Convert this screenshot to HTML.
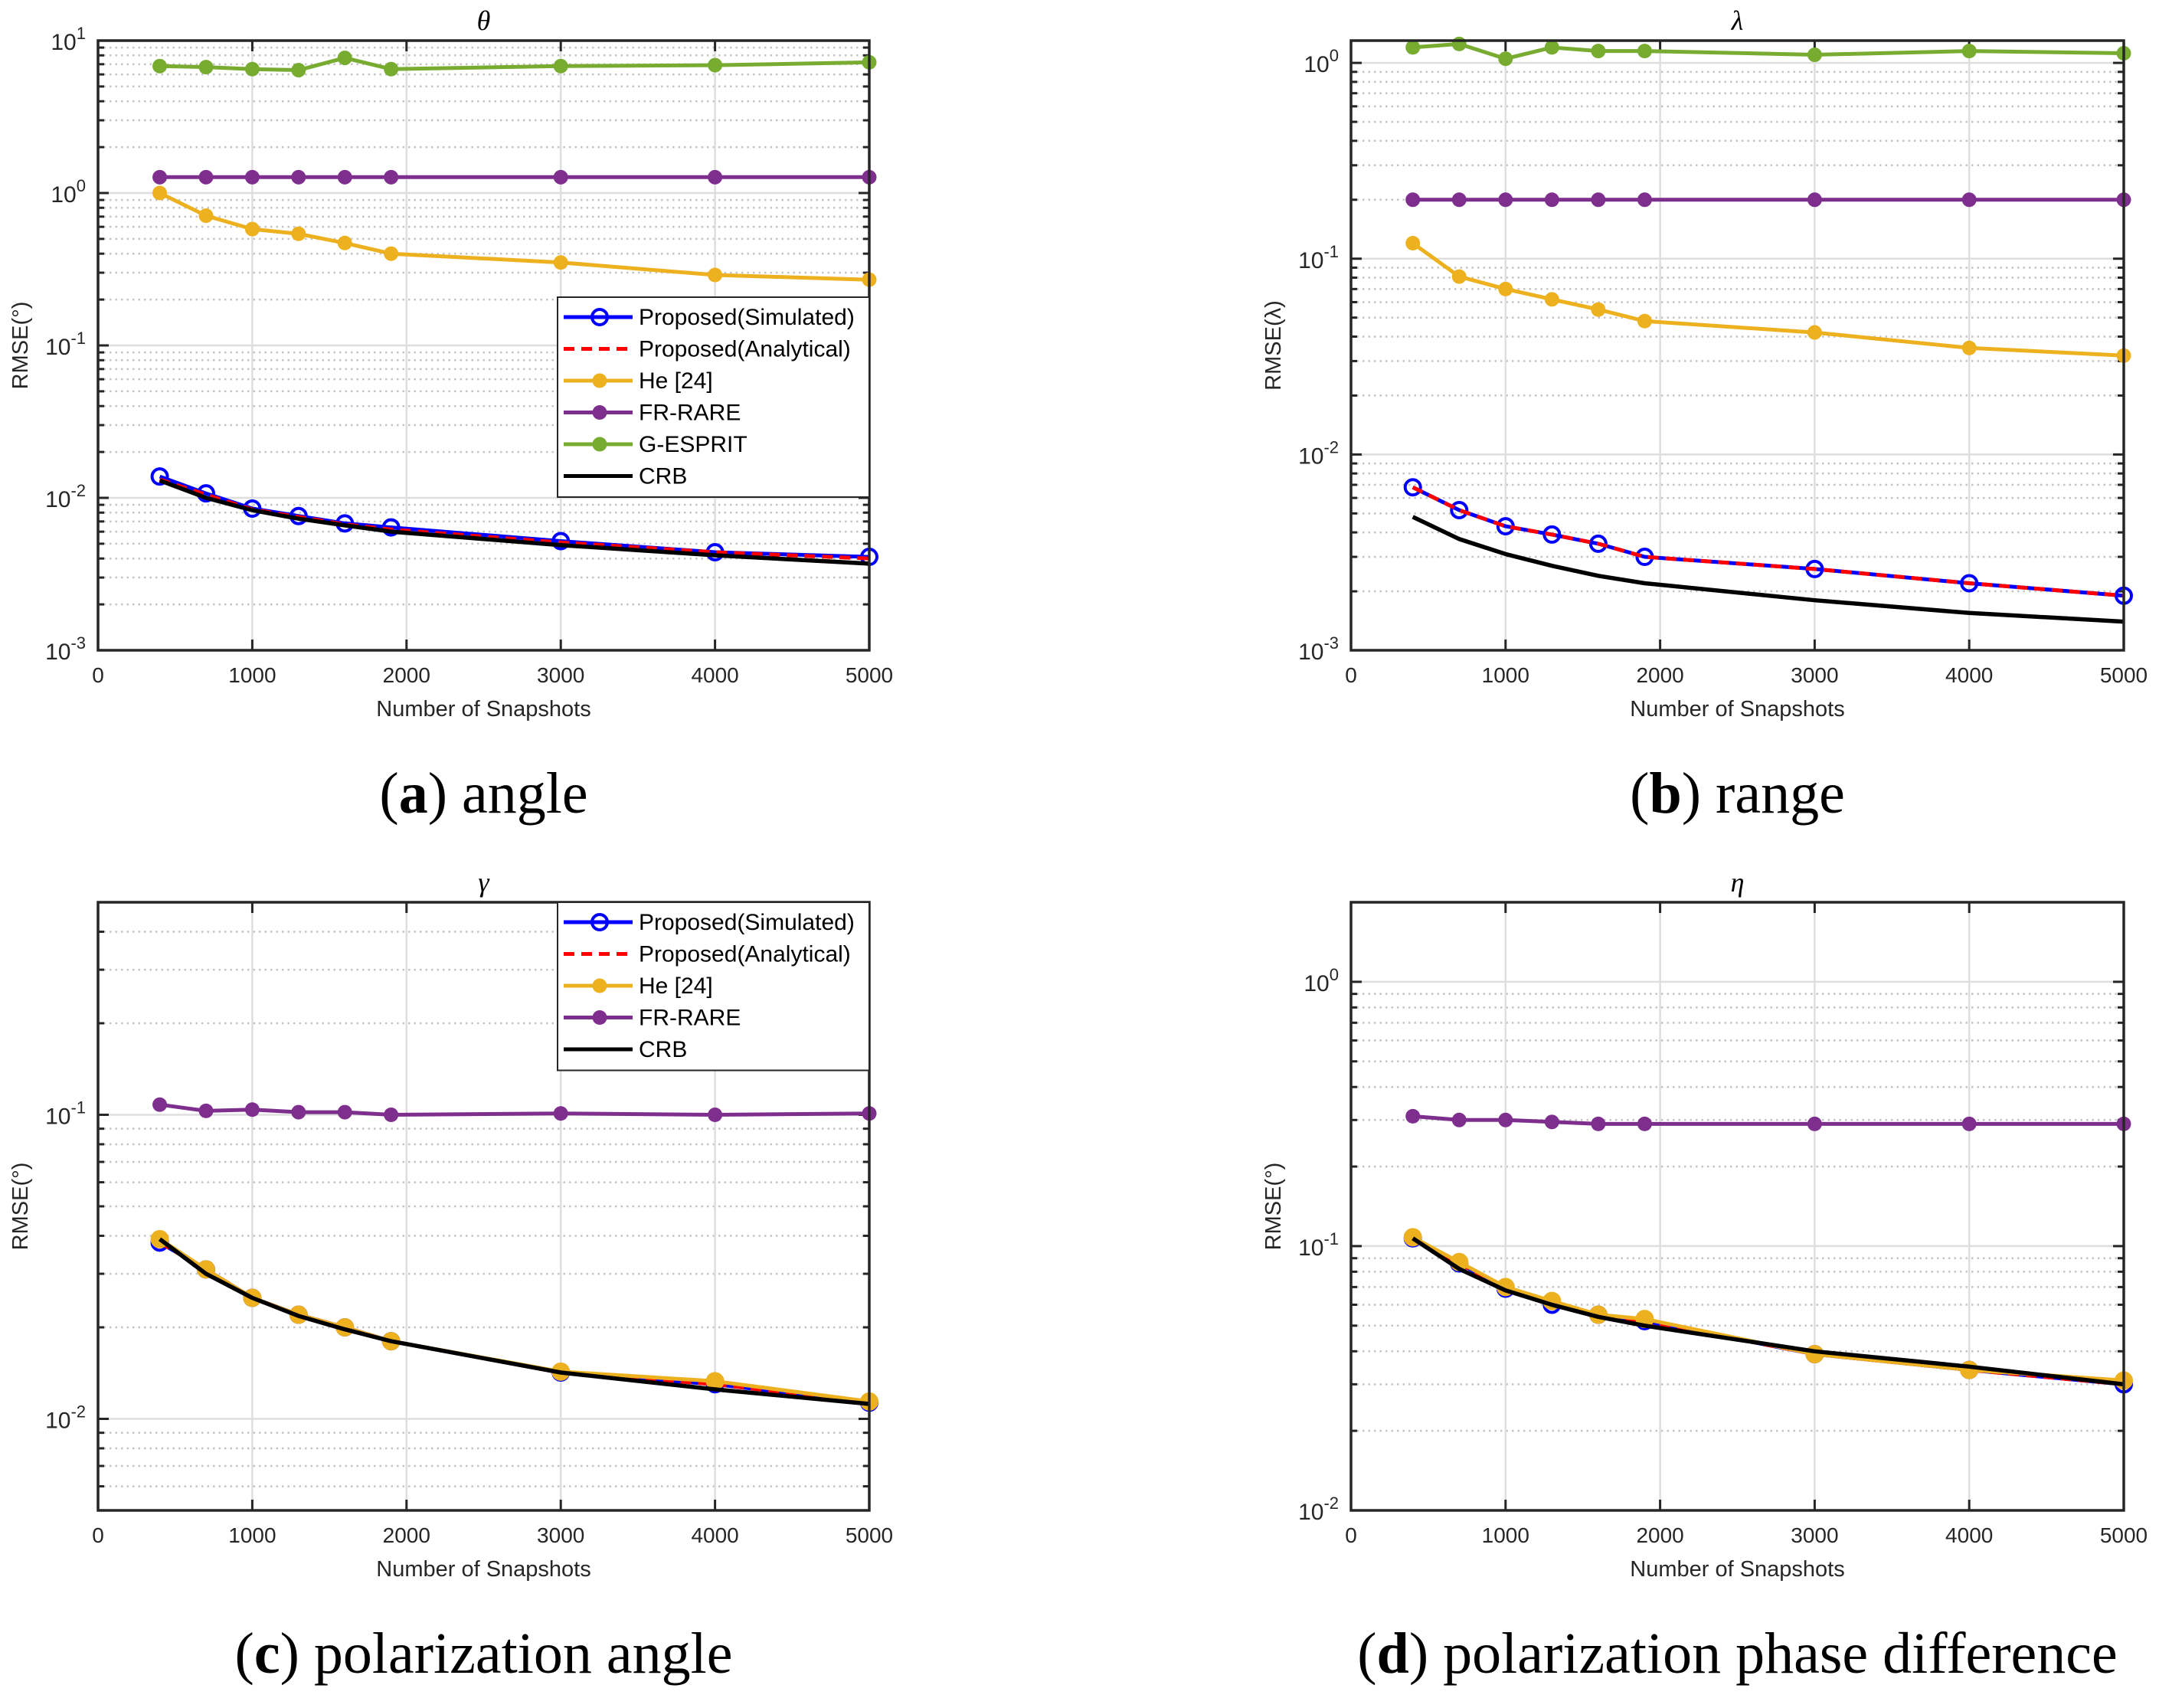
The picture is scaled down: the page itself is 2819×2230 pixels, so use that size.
<!DOCTYPE html>
<html><head><meta charset="utf-8"><style>
html,body{margin:0;padding:0;background:#fff;}
svg{display:block;}
</style></head><body>
<svg id="fig" width="2819" height="2230" viewBox="0 0 2819 2230" xmlns="http://www.w3.org/2000/svg" font-family="Liberation Sans, sans-serif"></svg>
<script>
const snapshots = [400,700,1000,1300,1600,1900,3000,4000,5000];
const xTicks = [0,1000,2000,3000,4000,5000];
// (a) angle
const aGesprit = [6.8,6.7,6.5,6.4,7.7,6.5,6.8,6.9,7.2];
const aFrRare = [1.27,1.27,1.27,1.27,1.27,1.27,1.27,1.27,1.27];
const aHe = [1.0,0.71,0.58,0.54,0.47,0.40,0.35,0.29,0.27];
const aSim = [0.0138,0.0107,0.0085,0.0076,0.0068,0.0064,0.0052,0.0044,0.0041];
const aAna = [0.0132,0.0105,0.0084,0.0075,0.0067,0.0062,0.0051,0.0044,0.0040];
const aCrb = [0.0130,0.0100,0.0083,0.0073,0.0066,0.0060,0.0049,0.0042,0.0037];
// (b) range
const bGesprit = [1.2,1.25,1.05,1.2,1.15,1.15,1.1,1.15,1.12];
const bFrRare = [0.2,0.2,0.2,0.2,0.2,0.2,0.2,0.2,0.2];
const bHe = [0.12,0.081,0.07,0.062,0.055,0.048,0.042,0.035,0.032];
const bSim = [0.0068,0.0052,0.0043,0.0039,0.0035,0.0030,0.0026,0.0022,0.0019];
const bAna = [0.0068,0.0052,0.0043,0.0039,0.0035,0.0030,0.0026,0.0022,0.0019];
const bCrb = [0.0048,0.0037,0.0031,0.0027,0.0024,0.0022,0.0018,0.00155,0.0014];
// (c) polarization angle
const cFrRare = [0.108,0.103,0.104,0.102,0.102,0.1,0.101,0.1,0.101];
const cHe = [0.039,0.031,0.025,0.022,0.020,0.018,0.0143,0.0133,0.0114];
const cSim = [0.038,0.031,0.025,0.022,0.020,0.018,0.0142,0.013,0.0113];
const cAna = [0.038,0.031,0.025,0.022,0.020,0.018,0.0142,0.013,0.0113];
const cCrb = [0.039,0.030,0.025,0.0218,0.0197,0.018,0.0142,0.0125,0.0112];
// (d) polarization phase difference
const dFrRare = [0.31,0.30,0.30,0.295,0.29,0.29,0.29,0.29,0.29];
const dHe = [0.108,0.087,0.070,0.062,0.055,0.053,0.039,0.034,0.031];
const dSim = [0.107,0.086,0.069,0.060,0.055,0.052,0.039,0.034,0.030];
const dAna = [0.107,0.086,0.069,0.060,0.055,0.052,0.039,0.034,0.030];
const dCrb = [0.107,0.082,0.068,0.060,0.054,0.050,0.040,0.035,0.030];

const NS='http://www.w3.org/2000/svg';
const fig=document.getElementById('fig');
function mk(tag,attrs,parent){const e=document.createElementNS(NS,tag);for(const k in attrs)e.setAttribute(k,attrs[k]);(parent||fig).appendChild(e);return e;}

const C={sim:'#0000ff',ana:'#ff0000',he:'#edb120',fr:'#7e2f8e',ge:'#77ac30',crb:'#000000'};

function panel(id,box,ylim,title,ylabel,series,caption){
  const g=mk('g',{});
  
  
  const [L,T,R,B]=box;
  const lmin=Math.log10(ylim[0]),lmax=Math.log10(ylim[1]);
  const xs=v=>L+(v-0)/5000*(R-L);
  const ys=v=>B-(Math.log10(v)-lmin)/(lmax-lmin)*(B-T);
  for(let d=Math.floor(lmin);d<Math.ceil(lmax);d++){
    for(let m=2;m<=9;m++){const v=m*Math.pow(10,d);if(v<ylim[0]||v>ylim[1])continue;const y=ys(v);
      const l=mk('line',{x1:L,x2:R,y1:y,y2:y,stroke:'#c4c4c4','stroke-width':2.5,'stroke-dasharray':'2.5 5'},g);
      
      
      mk('line',{x1:L,x2:L+8,y1:y,y2:y,stroke:'#262626','stroke-width':3},g);
      mk('line',{x1:R,x2:R-8,y1:y,y2:y,stroke:'#262626','stroke-width':3},g);
    }
  }
  xTicks.forEach(t=>{const x=xs(t);
    const l=mk('line',{x1:x,x2:x,y1:T,y2:B,stroke:'#dedede','stroke-width':2.5},g);
    
    
    mk('line',{x1:x,x2:x,y1:B,y2:B-14,stroke:'#262626','stroke-width':3},g);
    mk('line',{x1:x,x2:x,y1:T,y2:T+14,stroke:'#262626','stroke-width':3},g);
    const tx=mk('text',{x:x,y:B+42,'font-size':28,'text-anchor':'middle',fill:'#262626'},g);
    tx.textContent=t;
    
    
  });
  for(let d=Math.ceil(lmin-1e-9);d<=Math.floor(lmax+1e-9);d++){const y=ys(Math.pow(10,d));
    const l=mk('line',{x1:L,x2:R,y1:y,y2:y,stroke:'#dedede','stroke-width':2.5},g);
    
    
    mk('line',{x1:L,x2:L+14,y1:y,y2:y,stroke:'#262626','stroke-width':3},g);
    mk('line',{x1:R,x2:R-14,y1:y,y2:y,stroke:'#262626','stroke-width':3},g);
    const tx=mk('text',{x:L-16,y:y+12,'font-size':30,'text-anchor':'end',fill:'#262626'},g);
    
    
    const b=mk('tspan',{},tx);b.textContent='10';
    const s=mk('tspan',{dy:-14,'font-size':22},tx);s.textContent=String(d);
  }
  series.forEach(s=>{
    const pts=snapshots.map((v,i)=>xs(v).toFixed(1)+','+ys(s.data[i]).toFixed(1)).join(' ');
    const pl=mk('polyline',{points:pts,fill:'none',stroke:s.color,'stroke-width':s.w||5,'stroke-dasharray':s.dash||'none','stroke-linejoin':'round'},g);
    
    
    if(s.marker){snapshots.forEach((v,i)=>{
      let m;
      if(s.marker==='o') m=mk('circle',{cx:xs(v),cy:ys(s.data[i]),r:10,fill:s.fill||'none',stroke:s.color,'stroke-width':4},g);
      else m=mk('circle',{cx:xs(v),cy:ys(s.data[i]),r:9.5,fill:s.color},g);
      
      
    });}
  });
  const rb=mk('rect',{x:L,y:T,width:R-L,height:B-T,fill:'none',stroke:'#262626','stroke-width':3.5},g);
  
  
  const tt=mk('text',{x:(L+R)/2,y:T-14,'font-size':36,'text-anchor':'middle','font-style':'italic','font-family':'Liberation Serif, serif',fill:'#000'},g);
  tt.textContent=title;
  
  
  const xl=mk('text',{x:(L+R)/2,y:B+86,'font-size':29,'text-anchor':'middle',fill:'#262626'},g);
  xl.textContent='Number of Snapshots';
  
  
  const yx=L-92,yy=(T+B)/2;
  const yl=mk('text',{x:yx,y:yy,'font-size':29,'text-anchor':'middle',fill:'#262626',transform:`rotate(-90 ${yx} ${yy})`},g);
  yl.textContent=ylabel;
  
  
  const cp=mk('text',{x:(L+R)/2,y:caption,'font-size':76,'text-anchor':'middle','font-family':'Liberation Serif, serif',fill:'#000'},g);
  
  
  return {g,cp};
}
function cap(p,letter,txt){const c=p.cp;const a=mk('tspan',{},c);a.textContent='(';const b=mk('tspan',{'font-weight':'bold'},c);b.textContent=letter;const r=mk('tspan',{},c);r.textContent=') '+txt;}

function legendOnly(lx,ly,lw,items){
  const lh=41.5;const lg=mk('g',{});
  
  
  mk('rect',{x:lx,y:ly,width:lw,height:items.length*lh+12,fill:'#fff',stroke:'#262626','stroke-width':2},lg);
  items.forEach((s,i)=>{const y=ly+26+i*lh;
    const e=mk('g',{},lg);
    
    
    mk('line',{x1:lx+8,x2:lx+98,y1:y,y2:y,stroke:s[1],'stroke-width':5,'stroke-dasharray':s[3]||'none'},e);
    if(s[2]==='o') mk('circle',{cx:lx+55,cy:y,r:10,fill:'none',stroke:s[1],'stroke-width':4},e);
    else if(s[2]) mk('circle',{cx:lx+55,cy:y,r:9.5,fill:s[1]},e);
    const t=mk('text',{x:lx+106,y:y+10,'font-size':30,fill:'#000'},e);t.textContent=s[0];
  });
}

const S=(name,label,data,color,marker,dash,w,fill)=>({name,label,data,color,marker,dash,w,fill});
let p;
p=panel('a',[128,53,1135,849],[0.001,10],'θ','RMSE(°)',[
  S('ge','G-ESPRIT',aGesprit,C.ge,'*'),
  S('fr','FR-RARE',aFrRare,C.fr,'*'),
  S('he','He [24]',aHe,C.he,'*'),
  S('sim','Proposed(Simulated)',aSim,C.sim,'o'),
  S('ana','Proposed(Analytical)',aAna,C.ana,null,'14 9'),
  S('crb','CRB',aCrb,C.crb,null,null,5.5)],1061);
cap(p,'a','angle');
legendOnly(728,388,407,[['Proposed(Simulated)',C.sim,'o'],['Proposed(Analytical)',C.ana,null,'14 9'],['He [24]',C.he,'*'],['FR-RARE',C.fr,'*'],['G-ESPRIT',C.ge,'*'],['CRB',C.crb,null]]);

p=panel('b',[1764,53,2773,849],[0.001,1.3],'λ','RMSE(λ)',[
  S('ge','G-ESPRIT',bGesprit,C.ge,'*'),
  S('fr','FR-RARE',bFrRare,C.fr,'*'),
  S('he','He [24]',bHe,C.he,'*'),
  S('crb','CRB',bCrb,C.crb,null,null,5.5),
  S('sim','Proposed(Simulated)',bSim,C.sim,'o'),
  S('ana','Proposed(Analytical)',bAna,C.ana,null,'14 9')],1061);
cap(p,'b','range');

p=panel('c',[128,1178,1135,1972],[0.005,0.5],'γ','RMSE(°)',[
  S('fr','FR-RARE',cFrRare,C.fr,'*'),
  S('sim','Proposed(Simulated)',cSim,C.sim,'o'),
  S('ana','Proposed(Analytical)',cAna,C.ana,null,'14 9'),
  S('he','He [24]',cHe,C.he,'o',null,5,C.he),
  S('crb','CRB',cCrb,C.crb,null,null,5.5)],2184);
cap(p,'c','polarization angle');
legendOnly(728,1178,407,[['Proposed(Simulated)',C.sim,'o'],['Proposed(Analytical)',C.ana,null,'14 9'],['He [24]',C.he,'*'],['FR-RARE',C.fr,'*'],['CRB',C.crb,null]]);

p=panel('d',[1764,1178,2773,1972],[0.01,2],'η','RMSE(°)',[
  S('fr','FR-RARE',dFrRare,C.fr,'*'),
  S('sim','Proposed(Simulated)',dSim,C.sim,'o'),
  S('ana','Proposed(Analytical)',dAna,C.ana,null,'14 9'),
  S('he','He [24]',dHe,C.he,'o',null,5,C.he),
  S('crb','CRB',dCrb,C.crb,null,null,5.5)],2184);
cap(p,'d','polarization phase difference');
</script>
</body></html>
